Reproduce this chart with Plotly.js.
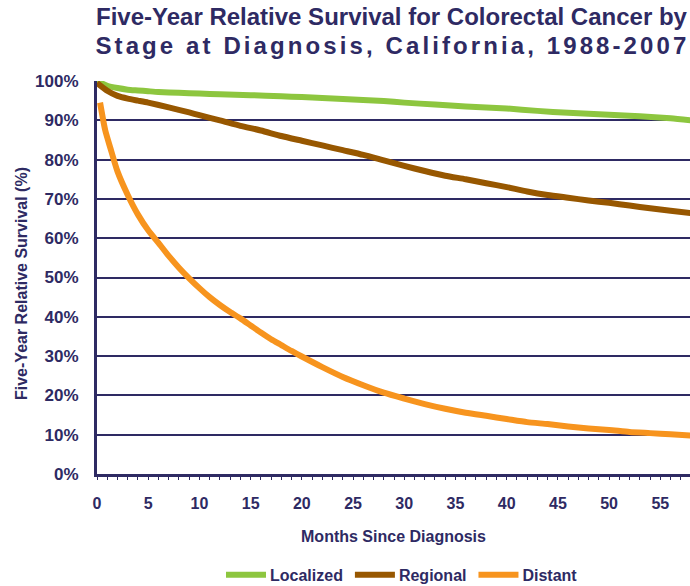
<!DOCTYPE html>
<html>
<head>
<meta charset="utf-8">
<script src="https://cdn.plot.ly/plotly-3.0.1.min.js"></script>
<style>
html,body{margin:0;padding:0;background:#fff;}
#chart{width:690px;height:586px;}
#chart .annotation[data-index="1"] text.annotation-text{letter-spacing:3.1px;}
</style>
</head>
<body>
<div id="chart"></div>
<script>
// Data
const titleLine1 = "Five-Year Relative Survival for Colorectal Cancer by";
const titleLine2 = "Stage at Diagnosis, California, 1988-2007";
const seriesNames = ["Localized", "Regional", "Distant"];

const localizedMonths = [0, 1, 2, 3, 4, 5, 6, 8, 10, 12, 15, 18, 20, 22, 25, 28, 30, 33, 36, 40, 43, 46, 50, 53, 56, 58];
const localizedValues = [100, 98.8, 98.2, 97.8, 97.6, 97.4, 97.2, 97.0, 96.8, 96.6, 96.4, 96.1, 95.9, 95.7, 95.3, 94.9, 94.5, 94.0, 93.5, 93.0, 92.4, 91.9, 91.4, 91.0, 90.5, 90.0];

const regionalMonths = [0, 1, 2, 3, 4, 5, 7, 9, 10, 12, 14, 16, 18, 20, 22, 24, 26, 28, 30, 32, 34, 36, 38, 40, 42, 44, 46, 48, 50, 52, 54, 56, 58];
const regionalValues = [99.5, 97.5, 96.2, 95.5, 95.0, 94.5, 93.3, 92.0, 91.3, 90.0, 88.6, 87.4, 86.0, 84.8, 83.6, 82.4, 81.2, 79.8, 78.4, 77.1, 75.9, 75.0, 74.0, 73.0, 71.9, 71.0, 70.3, 69.6, 69.0, 68.3, 67.6, 67.0, 66.4];

const distantMonths = [0.3, 0.8, 1.3, 2, 3, 4, 5, 6, 7, 8, 9, 10, 11, 12, 13, 14, 15, 16, 17, 18, 19, 20, 22, 24, 26, 28, 30, 32, 34, 36, 38, 40, 42, 44, 46, 48, 50, 52, 54, 56, 58];
const distantValues = [94.5, 87.5, 83.0, 77.0, 71.0, 66.0, 62.0, 58.8, 55.5, 52.5, 49.8, 47.3, 45.0, 43.0, 41.2, 39.6, 37.8, 36.0, 34.3, 32.8, 31.3, 29.9, 27.2, 24.7, 22.6, 20.7, 19.2, 17.8, 16.6, 15.6, 14.8, 14.0, 13.2, 12.7, 12.1, 11.6, 11.2, 10.7, 10.4, 10.1, 9.8];

const xTickVals = [0, 5, 10, 15, 20, 25, 30, 35, 40, 45, 50, 55];
const yTickVals = [0, 10, 20, 30, 40, 50, 60, 70, 80, 90, 100];
const yTickText = ["0%", "10%", "20%", "30%", "40%", "50%", "60%", "70%", "80%", "90%", "100%"];

const navy = "#2e2a63";
const fontFam = "Liberation Sans, Arial, sans-serif";

const traces = [
  {x: localizedMonths, y: localizedValues, name: seriesNames[0], mode: "lines", line: {color: "#8dc63f", width: 6, shape: "spline", smoothing: 0.6}},
  {x: regionalMonths, y: regionalValues, name: seriesNames[1], mode: "lines", line: {color: "#975700", width: 6, shape: "spline", smoothing: 0.6}},
  {x: distantMonths, y: distantValues, name: seriesNames[2], mode: "lines", line: {color: "#f7941e", width: 6, shape: "spline", smoothing: 0.6}}
];

const layout = {
  width: 690, height: 586, autosize: false,
  margin: {l: 97, r: 0, t: 81, b: 112, pad: 0, autoexpand: false},
  paper_bgcolor: "#ffffff", plot_bgcolor: "#ffffff",
  font: {family: fontFam, color: navy, size: 16, weight: "bold"},
  showlegend: true,
  legend: {orientation: "h", xref: "container", yref: "container", x: 0.58, xanchor: "center", y: 0.019, yanchor: "middle",
           font: {family: fontFam, size: 16, color: navy, weight: "bold"}, itemwidth: 30, traceorder: "normal"},
  xaxis: {
    range: [0, 57.9], tickmode: "array", tickvals: xTickVals, automargin: false,
    ticks: "outside", ticklen: 3, tickwidth: 1, tickcolor: navy,
    minor: {dtick: 1, tick0: 0, ticks: "outside", ticklen: 3, tickwidth: 1, tickcolor: navy, showgrid: false},
    showgrid: false, zeroline: false, showline: true, linecolor: navy, linewidth: 3,
    tickfont: {family: fontFam, size: 16, color: navy, weight: "bold"},
    ticklabelstandoff: 10,
    title: {text: "Months Since Diagnosis", font: {family: fontFam, size: 16, color: navy, weight: "bold"}, standoff: 20},
    fixedrange: true
  },
  yaxis: {
    range: [0, 100], tickmode: "array", tickvals: yTickVals, ticktext: yTickText, automargin: false,
    ticks: "", showgrid: true, gridcolor: navy, gridwidth: 2,
    zeroline: false, showline: true, linecolor: navy, linewidth: 3,
    tickfont: {family: fontFam, size: 17, color: navy, weight: "bold"},
    ticklabelstandoff: 12,
    title: {text: "Five-Year Relative Survival (%)", font: {family: fontFam, size: 16, color: navy, weight: "bold"}, standoff: 8},
    fixedrange: true
  },
  annotations: [
    {text: titleLine1, xref: "paper", yref: "paper", x: 0.498, y: 1.163, xanchor: "center", yanchor: "middle", showarrow: false,
     font: {family: fontFam, size: 24, color: navy, weight: "bold"}},
    {text: titleLine2, xref: "paper", yref: "paper", x: 0.498, y: 1.0916, xanchor: "center", yanchor: "middle", showarrow: false,
     font: {family: fontFam, size: 24, color: navy, weight: "bold"}}
  ]
};

function parseTranslate(el) {
  const tr = el.getAttribute("transform") || "";
  const m = tr.match(/translate\(\s*([-\d.e]+)[ ,]+([-\d.e]+)\s*\)/);
  return m ? [parseFloat(m[1]), parseFloat(m[2])] : [0, 0];
}

Plotly.newPlot("chart", traces, layout, {staticPlot: true, displayModeBar: false}).then(function (gd) {
  // legend styling: 40px symbols close to labels, wider gaps between entries
  const scroll = gd.querySelector(".legend .scrollbox");
  if (scroll) scroll.removeAttribute("clip-path");
  const bg = gd.querySelector(".legend .bg");
  if (bg) bg.setAttribute("width", "600");
  gd.querySelectorAll(".legend .traces").forEach(function (g, i) {
    const p = g.querySelector(".legendlines path");
    if (p) p.setAttribute("d", "M-4,0h40");
    const t = parseTranslate(g);
    g.setAttribute("transform", "translate(" + (t[0] + i * 11) + "," + t[1] + ")");
  });
  const first = gd.querySelector(".legend .traces .legendlines path");
  const leg = gd.querySelector(".legend");
  if (first && leg) {
    const dx = 226 - first.getBoundingClientRect().left;
    const t = parseTranslate(leg);
    leg.setAttribute("transform", "translate(" + (t[0] + dx) + "," + t[1] + ")");
  }
  // nudge the y-axis title to the reference position
  const yt = gd.querySelector(".g-ytitle");
  if (yt) yt.setAttribute("transform", "translate(4,6)");
});
</script>
</body>
</html>
